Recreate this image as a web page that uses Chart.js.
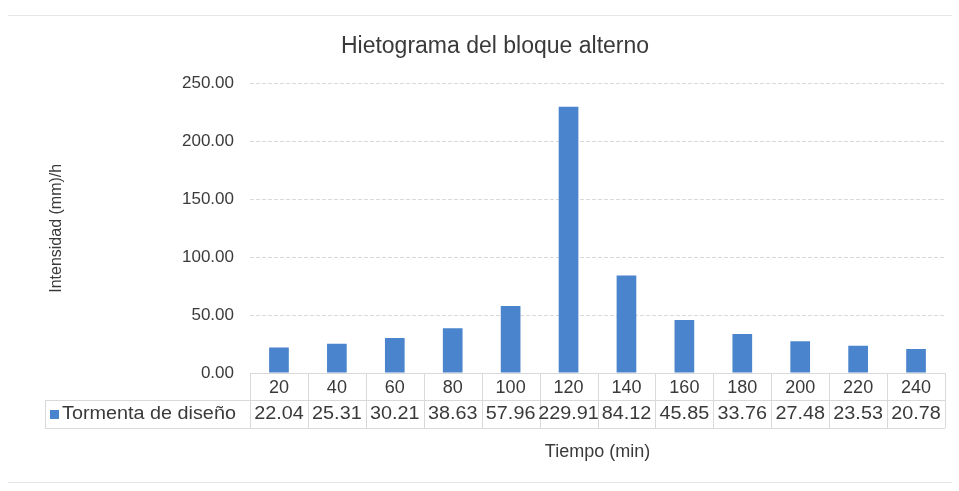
<!DOCTYPE html>
<html>
<head>
<meta charset="utf-8">
<script src="https://cdn.jsdelivr.net/npm/chart.js@4.4.0/dist/chart.umd.min.js"></script>
<style>
  body { margin: 0; background: #fff; }
  #wrap { width: 959px; height: 491px; }
</style>
</head>
<body>
<div id="wrap"><canvas id="myChart" width="959" height="491"></canvas></div>
<script>
// datos del hietograma
const tiempos = ['20', '40', '60', '80', '100', '120', '140', '160', '180', '200', '220', '240'];
const intensidad = [22.04, 25.31, 30.21, 38.63, 57.96, 229.91, 84.12, 45.85, 33.76, 27.48, 23.53, 20.78];
const nombreSerie = 'Tormenta de diseño';
const yTicks = [0, 50, 100, 150, 200, 250];

const textColor = '#3a3a3a';
const gridColor = '#d9d9d9';
const barColor = '#4a84cc';
const fuente = '"Liberation Sans", Arial, sans-serif';

// dibuja la tabla de datos bajo el eje x (como en Excel)
const tablaDatos = {
    id: 'tablaDatos',
    afterDraw(chart) {
        const ctx = chart.ctx;
        const x = chart.scales.x;
        const area = chart.chartArea;
        const y0 = area.bottom;
        const yMid = y0 + 27;
        const yEnd = y0 + 55;
        const step = (area.right - area.left) / tiempos.length;

        ctx.save();
        ctx.strokeStyle = gridColor;
        ctx.lineWidth = 1;
        ctx.beginPath();
        // lineas horizontales
        ctx.moveTo(45, yMid + 0.5); ctx.lineTo(area.right, yMid + 0.5);
        ctx.moveTo(45, yEnd + 0.5); ctx.lineTo(area.right, yEnd + 0.5);
        // lineas verticales
        for (let i = 0; i <= tiempos.length; i++) {
            const px = Math.round(area.left + i * step) + 0.5;
            ctx.moveTo(px, y0); ctx.lineTo(px, yEnd);
        }
        ctx.moveTo(45.5, yMid); ctx.lineTo(45.5, yEnd);
        ctx.stroke();

        // texto un poco ensanchado, como en la imagen escaneada
        const sx = 1.1;
        ctx.font = '18px ' + fuente;
        ctx.fillStyle = textColor;
        ctx.textAlign = 'center';
        ctx.textBaseline = 'middle';
        intensidad.forEach((v, i) => {
            ctx.save();
            ctx.translate(x.getPixelForValue(i), yMid + 14);
            ctx.scale(sx, 1);
            ctx.fillText(v.toFixed(2), 0, 0);
            ctx.restore();
        });

        // clave de leyenda + nombre de la serie
        ctx.fillStyle = barColor;
        ctx.fillRect(50, yMid + 10, 9, 9);
        ctx.fillStyle = textColor;
        ctx.textAlign = 'left';
        ctx.save();
        ctx.translate(62, yMid + 14);
        ctx.scale(sx, 1);
        ctx.fillText(nombreSerie, 0, 0);
        ctx.restore();

        // borde del grafico
        ctx.strokeStyle = '#e6e6e6';
        ctx.beginPath();
        ctx.moveTo(8, 15.5); ctx.lineTo(952, 15.5);
        ctx.moveTo(8, 482.5); ctx.lineTo(952, 482.5);
        ctx.stroke();
        ctx.restore();
    }
};

const ctx = document.getElementById('myChart');
new Chart(ctx, {
    type: 'bar',
    data: {
        labels: tiempos,
        datasets: [{
            label: nombreSerie,
            data: intensidad,
            backgroundColor: barColor,
            borderWidth: 0,
            barPercentage: 0.34,
            categoryPercentage: 1
        }]
    },
    options: {
        responsive: false,
        animation: false,
        layout: { padding: { left: 45, right: 14, top: 33, bottom: 25 } },
        plugins: {
            legend: { display: false },
            tooltip: { enabled: false },
            title: {
                display: true,
                text: 'Hietograma del bloque alterno',
                color: textColor,
                font: { family: fuente, size: 23, weight: 'normal' },
                padding: { top: 0, bottom: 23 }
            }
        },
        scales: {
            x: {
                grid: { display: false, drawTicks: false },
                border: { color: gridColor },
                ticks: {
                    color: textColor,
                    padding: 4,
                    font: { family: fuente, size: 18 }
                },
                title: {
                    display: true,
                    text: 'Tiempo (min)',
                    color: textColor,
                    font: { family: fuente, size: 18 },
                    padding: { top: 0, bottom: 3 }
                },
                afterFit: function(scale) { scale.height = 93; }
            },
            y: {
                min: 0,
                max: 250,
                afterBuildTicks: function(scale) {
                    scale.ticks = yTicks.map(v => ({ value: v }));
                },
                grid: { color: gridColor, drawTicks: false },
                border: { display: false, dash: [4, 2] },
                ticks: {
                    color: textColor,
                    padding: 16,
                    font: { family: fuente, size: 17 },
                    callback: function(value) { return value.toFixed(2); }
                },
                title: {
                    display: true,
                    text: 'Intensidad (mm)/h',
                    color: textColor,
                    font: { family: fuente, size: 16 },
                    padding: 2
                },
                afterFit: function(scale) { scale.width = 205; }
            }
        }
    },
    plugins: [tablaDatos]
});
</script>
</body>
</html>
